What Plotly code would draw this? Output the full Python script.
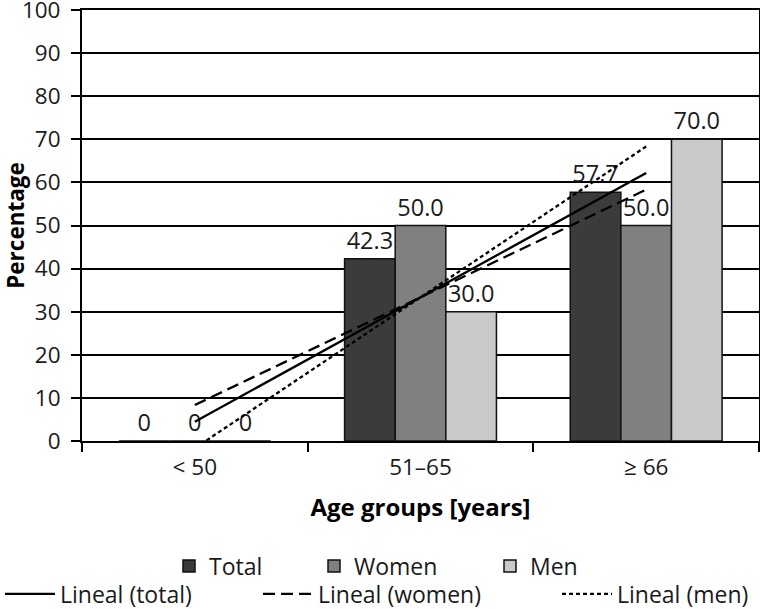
import numpy as np
import plotly.graph_objects as go

categories = ["< 50", "51–65", "≥ 66"]
total = [0, 42.3, 57.7]
women = [0, 50.0, 50.0]
men = [0, 30.0, 70.0]
y_ticks = list(range(0, 101, 10))

FONT = "Open Sans"
W, H = 760, 609
L, R, T, B = 82, 1, 10, 168

def lab(vals):
    return ["0" if v == 0 else f"{v:.1f}" for v in vals]

def trend(vals):
    xs = np.arange(1, len(vals) + 1)
    k, b = np.polyfit(xs, vals, 1)
    return list(k * xs + b)

fig = go.Figure()
bar_specs = [("Total", total, "#3b3b3b"), ("Women", women, "#808080"), ("Men", men, "#c9c9c9")]
lab_font = dict(family=FONT, size=23.5, color="#1a1a1a")
for i, (name, vals, col) in enumerate(bar_specs):
    fig.add_trace(go.Bar(
        x=categories, y=vals, name=name, text=lab(vals), textposition="outside",
        textfont=lab_font, outsidetextfont=lab_font,
        constraintext="none", cliponaxis=False,
        marker=dict(color=col, line=dict(color="#111", width=1.5)),
        legend="legend" if i == 0 else f"legend{i+1}",
    ))

line_specs = [("Lineal (total)", total, "solid"), ("Lineal (women)", women, "12px,6px"),
              ("Lineal (men)", men, "4px,3px")]
for i, (name, vals, dash) in enumerate(line_specs):
    fig.add_trace(go.Scatter(
        x=categories, y=trend(vals), name=name, mode="lines",
        line=dict(color="#000", width=2.3, dash=dash),
        legend=f"legend{i+4}",
    ))

# legend positions (container px) and symbol widths
leg_pos = [(169, 566, 30), (314, 566, 30), (490, 566, 30),
           (-1, 594, 50), (258, 594, 50), (557, 594, 50)]
legs = {}
for i, (px, py, iw) in enumerate(leg_pos):
    key = "legend" if i == 0 else f"legend{i+1}"
    legs[key] = dict(
        xref="container", yref="container", x=px / W, y=1 - py / H,
        xanchor="left", yanchor="middle", orientation="h",
        bgcolor="rgba(0,0,0,0)", borderwidth=0,
        font=dict(family=FONT, size=23, color="#1a1a1a"),
        tracegroupgap=0, itemwidth=iw,
    )

fig.update_layout(
    width=W, height=H,
    margin=dict(l=L, r=R, t=T, b=B, pad=0, autoexpand=False),
    plot_bgcolor="white", paper_bgcolor="white",
    barmode="group", bargap=0.327, bargroupgap=0,
    font=dict(family=FONT, size=22, color="#1a1a1a"),
    showlegend=True,
    **legs,
)
fig.update_xaxes(
    type="category", tickson="boundaries", ticks="outside", ticklen=9, tickwidth=2,
    tickcolor="#000", showline=True, linecolor="#000", linewidth=2, mirror=True,
    tickfont=dict(family=FONT, size=22.5, color="#1a1a1a"),
    ticklabelstandoff=5,
    showgrid=False,
    title=dict(text="Age groups [years]", font=dict(family=FONT, size=24, color="#000", weight="bold"),
               standoff=18),
)
fig.update_yaxes(
    range=[0, 100], tickvals=y_ticks, ticks="outside", ticklen=9, tickwidth=2,
    tickcolor="#000", showline=True, linecolor="#000", linewidth=2, mirror=True,
    showgrid=True, gridcolor="#000", gridwidth=2, zeroline=False,
    tickfont=dict(family=FONT, size=22.5, color="#1a1a1a"),
    ticklabelstandoff=6, ticklabeloverflow="allow",
    title=dict(text="Percentage", font=dict(family=FONT, size=22.5, color="#000", weight="bold"),
               standoff=0),
)
fig.write_html("out.html", config={"displayModeBar": False},
               post_script="document.body.style.margin='0';document.body.style.padding='0';")
